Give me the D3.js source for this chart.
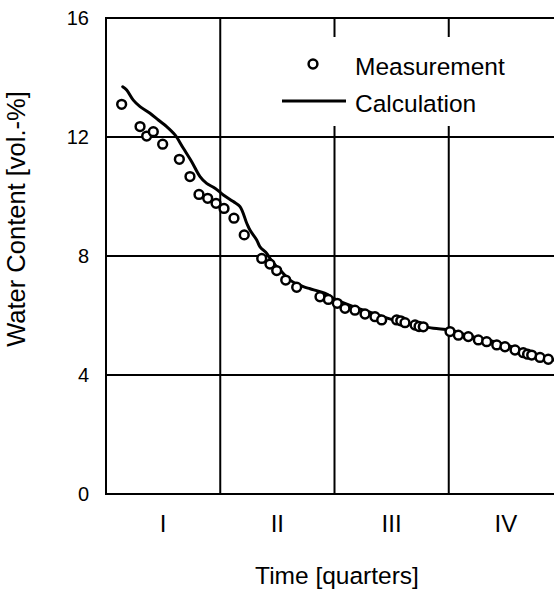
<!DOCTYPE html>
<html><head><meta charset="utf-8">
<script src="https://cdn.jsdelivr.net/npm/d3@7"></script>
<style>
html,body{margin:0;padding:0;background:#fff;}
svg{display:block;font-family:"Liberation Sans",Arial,Helvetica,sans-serif;}
</style></head>
<body>
<svg id="chart" width="554" height="590"></svg>
<script>
const quarterLabels = ["I","II","III","IV"];
const yTicks = [0,4,8,12,16];
const measTime = [0.137,0.298,0.356,0.414,0.496,0.642,0.735,0.814,0.890,0.963,1.033,1.120,1.210,1.363,1.435,1.494,1.573,1.669,1.873,1.946,2.024,2.092,2.179,2.267,2.354,2.413,2.544,2.580,2.617,2.705,2.740,2.777,3.011,3.084,3.171,3.259,3.332,3.420,3.492,3.580,3.652,3.690,3.726,3.799,3.871];
const measValue = [13.1,12.35,12.03,12.18,11.76,11.25,10.67,10.07,9.94,9.77,9.6,9.27,8.71,7.92,7.73,7.51,7.19,6.95,6.63,6.54,6.41,6.24,6.18,6.05,5.96,5.85,5.85,5.82,5.76,5.68,5.63,5.62,5.46,5.34,5.29,5.18,5.12,5.01,4.95,4.84,4.75,4.70,4.67,4.59,4.53];
const calcTime = [0.146,0.181,0.239,0.298,0.385,0.458,0.531,0.604,0.677,0.750,0.823,0.881,0.954,1.027,1.114,1.173,1.232,1.260,1.319,1.348,1.407,1.435,1.494,1.523,1.611,1.727,1.786,1.873,1.932,1.990,2.165,2.340,2.515,2.719,2.865,3.011,3.157,3.449,3.682,3.921];
const calcValue = [13.69,13.58,13.24,13.02,12.8,12.57,12.35,12.07,11.62,11.17,10.67,10.44,10.28,10.05,9.83,9.66,9.1,8.87,8.54,8.31,8.09,7.92,7.64,7.53,7.19,6.97,6.90,6.8,6.72,6.58,6.3,6.07,5.85,5.68,5.57,5.51,5.34,5.07,4.78,4.5];

const svg = d3.select("#chart");
const L = 106, T = 18, B = 494, R = 563;
const x = d3.scaleLinear().domain([0,4]).range([L,R]);
const y = d3.scaleLinear().domain([0,16]).range([B,T]);

svg.append("defs").append("clipPath").attr("id","clip")
  .append("rect").attr("x",L).attr("y",T).attr("width",R-L).attr("height",B-T);

// grid
const g = svg.append("g").attr("stroke","#000").attr("stroke-width",2);
[1,2,3].forEach(q => g.append("line").attr("x1",x(q)).attr("x2",x(q)).attr("y1",T).attr("y2",B));
[4,8,12].forEach(v => g.append("line").attr("x1",L).attr("x2",R).attr("y1",y(v)).attr("y2",y(v)));
// frame
g.append("line").attr("x1",L).attr("x2",L).attr("y1",T-1).attr("y2",B+1);
g.append("line").attr("x1",L).attr("x2",R).attr("y1",T).attr("y2",T);
g.append("line").attr("x1",L).attr("x2",R).attr("y1",B).attr("y2",B);

// legend background
svg.append("rect").attr("x",268).attr("y",37).attr("width",300).attr("height",89).attr("fill","#fff");

// data
const data = svg.append("g").attr("clip-path","url(#clip)");
const calc = calcTime.map((t,i)=>[t,calcValue[i]]);
data.append("path").datum(calc)
  .attr("d", d3.line().curve(d3.curveCatmullRom.alpha(0.5)).x(d=>x(d[0])).y(d=>y(d[1])))
  .attr("fill","none").attr("stroke","#000").attr("stroke-width",3)
  .attr("stroke-linejoin","round").attr("stroke-linecap","round");
data.selectAll("circle.m").data(measTime.map((t,i)=>[t,measValue[i]])).enter()
  .append("circle").attr("class","m")
  .attr("cx",d=>x(d[0])).attr("cy",d=>y(d[1])).attr("r",4.4)
  .attr("fill","#fff").attr("stroke","#000").attr("stroke-width",2.5);

// y tick labels
svg.append("g").selectAll("text").data(yTicks).enter().append("text")
  .attr("x",89).attr("y",d=>y(d)).attr("dy","0.36em")
  .attr("text-anchor","end").attr("font-size",20).text(d=>d);

// x quarter labels
svg.append("g").selectAll("text").data(quarterLabels).enter().append("text")
  .attr("x",(d,i)=>x(i+0.5)).attr("y",532)
  .attr("text-anchor","middle").attr("font-size",24).text(d=>d);

// axis titles
svg.append("text").attr("x",337).attr("y",584).attr("text-anchor","middle")
  .attr("font-size",24.5).text("Time [quarters]");
svg.append("text").attr("transform","translate(25,219) rotate(-90)")
  .attr("text-anchor","middle").attr("font-size",25.5).text("Water Content [vol.-%]");

// legend
svg.append("circle").attr("cx",313).attr("cy",64).attr("r",4.4)
  .attr("fill","#fff").attr("stroke","#000").attr("stroke-width",2.5);
svg.append("text").attr("x",355).attr("y",75).attr("font-size",24.5).text("Measurement");
svg.append("line").attr("x1",282).attr("x2",346).attr("y1",101).attr("y2",101)
  .attr("stroke","#000").attr("stroke-width",3);
svg.append("text").attr("x",355).attr("y",112).attr("font-size",24.5).text("Calculation");
</script>
</body></html>
